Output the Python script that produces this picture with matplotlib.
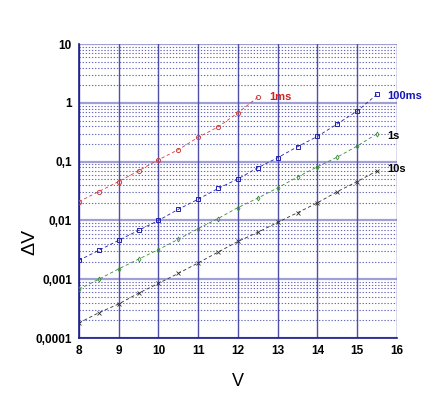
import numpy as np
import matplotlib.pyplot as plt
from matplotlib.ticker import FixedLocator, LogLocator, NullFormatter

plt.rcParams['font.family'] = ['Liberation Sans', 'DejaVu Sans']

v = [8, 8.5, 9, 9.5, 10, 10.5, 11, 11.5, 12, 12.5, 13, 13.5, 14, 14.5, 15, 15.5]

dv_1ms = [0.021, 0.031, 0.046, 0.07, 0.108, 0.16, 0.26, 0.39, 0.68, 1.25]
dv_100ms = [0.0021, 0.0031, 0.0046, 0.0068, 0.01, 0.0155, 0.023, 0.035,
            0.051, 0.079, 0.117, 0.18, 0.27, 0.44, 0.73, 1.4]
dv_1s = [0.00068, 0.001, 0.0015, 0.0022, 0.0032, 0.0048, 0.0073, 0.0108,
         0.0166, 0.024, 0.036, 0.055, 0.082, 0.12, 0.185, 0.3]
dv_10s = [0.00018, 0.00027, 0.00038, 0.00058, 0.00085, 0.00126, 0.0019, 0.0029,
          0.0044, 0.0063, 0.0093, 0.0136, 0.02, 0.031, 0.046, 0.07]

y_ticks = [0.0001, 0.001, 0.01, 0.1, 1, 10]
y_labels = ['0,0001', '0,001', '0,01', '0,1', '1', '10']

fig = plt.figure(figsize=(4.36, 3.94), dpi=100)
ax = fig.add_axes([0.181, 0.142, 0.7296, 0.746])

navy = '#1a1a8c'

# grid
for t in y_ticks:
    ax.axhline(t, color='#a0a0d4', lw=1.6, zorder=1)
for k in range(8, 17):
    ax.axvline(k, color='#5050aa', lw=1.0, zorder=1)
ax.yaxis.set_minor_locator(LogLocator(base=10, subs=np.arange(2, 10)))
ax.grid(True, which='minor', axis='y', color='#2a2a9a', ls=(0, (1.2, 1.6)), lw=0.8, alpha=0.7)

ax.plot(v[:len(dv_1ms)], dv_1ms, ls=(0, (4, 3)), color='#d04040', lw=0.6,
        marker='o', mfc='none', ms=3, mew=0.7, zorder=3)
ax.plot(v, dv_100ms, ls=(0, (4, 3)), color='#2020b0', lw=0.6,
        marker='s', mfc='none', ms=3, mew=0.7, zorder=3)
ax.plot(v, dv_1s, ls=(0, (4, 3)), color='#3a8a3a', lw=0.6,
        marker='d', mfc='none', ms=2.5, mew=0.6, zorder=3)
ax.plot(v, dv_10s, ls=(0, (4, 3)), color='#303030', lw=0.6,
        marker='x', ms=3.5, mew=0.6, zorder=3)

ax.text(12.78, 1.25, '1ms', color='#d02020', fontsize=8, fontweight='bold', va='center')
ax.text(15.75, 1.3, '100ms', color='#1515b5', fontsize=8, fontweight='bold', va='center')
ax.text(15.75, 0.27, '1s', color='black', fontsize=8, fontweight='bold', va='center')
ax.text(15.75, 0.074, '10s', color='black', fontsize=8, fontweight='bold', va='center')

ax.set_yscale('log')
ax.set_xlim(8, 16)
ax.set_ylim(0.0001, 10)
ax.set_xticks(range(8, 17))
ax.yaxis.set_major_locator(FixedLocator(y_ticks))
ax.set_yticklabels(y_labels)
ax.yaxis.set_minor_formatter(NullFormatter())
ax.tick_params(which='both', length=0, labelsize=8.5, pad=5)
for lab in ax.get_xticklabels() + ax.get_yticklabels():
    lab.set_fontweight('bold')

for s in ['top', 'right']:
    ax.spines[s].set_visible(False)
ax.spines['left'].set_color(navy)
ax.spines['bottom'].set_color(navy)
ax.spines['left'].set_linewidth(1.2)
ax.spines['bottom'].set_linewidth(1.2)

fig.text(238 / 436, 1 - 381 / 394, 'V', fontsize=13, ha='center', va='center')
fig.text(30 / 436, 1 - 242 / 394, 'ΔV', fontsize=14, ha='center', va='center', rotation=90)

fig.savefig('out.png', dpi=100)
